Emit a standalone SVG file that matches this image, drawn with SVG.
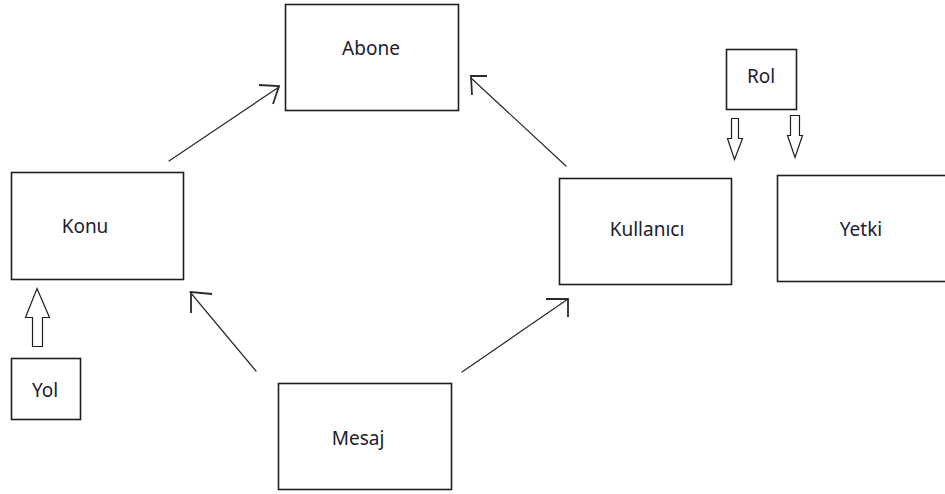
<svg xmlns="http://www.w3.org/2000/svg" width="945" height="494" viewBox="0 0 945 494">
  <style>
    .box { fill: #ffffff; stroke: #1e1e1e; stroke-width: 1.6; }
    .label { font-family: "Noto Sans", "Open Sans", sans-serif; font-size: 19px; fill: #1c2030; text-anchor: middle; }
    .line { fill: none; stroke: #2a2a2a; stroke-width: 1.2; stroke-linecap: round; }
    .head { fill: none; stroke: #2a2a2a; stroke-width: 1.8; stroke-linecap: butt; }
    .block { fill: #ffffff; stroke: #1e1e1e; stroke-width: 1.2; stroke-linejoin: miter; }
  </style>
  <rect width="945" height="494" fill="#ffffff"/>

  <!-- connectors: thin lines with hand-drawn open heads -->
  <g id="connectors">
    <!-- Konu to Abone -->
    <line class="line" x1="169" y1="161" x2="279" y2="87"/>
    <polyline class="head" points="259,85 279,86 273,104"/>
    <!-- Kullanici to Abone -->
    <line class="line" x1="566" y1="166" x2="471" y2="78"/>
    <polyline class="head" points="487,76 471,76 472,95"/>
    <!-- Mesaj to Konu -->
    <line class="line" x1="256" y1="371" x2="190" y2="292"/>
    <polyline class="head" points="212,294 191,292 191,313"/>
    <!-- Mesaj to Kullanici -->
    <line class="line" x1="462" y1="372" x2="568" y2="299"/>
    <polyline class="head" points="546,299 568,299 568,317"/>
    <!-- Yol up to Konu -->
    <polygon class="block" points="32.5,346.5 42.5,346.5 42.5,317.5 49.5,317.5 37,288.5 25.5,317.5 32.5,317.5"/>
    <!-- Rol down to Kullanici -->
    <polygon class="block" points="731.5,118.5 738.5,118.5 738.5,138.5 742.5,138.5 734.5,159.5 727.5,138.5 731.5,138.5"/>
    <!-- Rol down to Yetki -->
    <polygon class="block" points="790.5,115.5 799.5,115.5 799.5,135.5 802.5,135.5 795,157.5 787.5,135.5 790.5,135.5"/>
  </g>

  <g id="abone">
    <rect class="box" x="285.5" y="4.5" width="173" height="106"/>
    <text class="label" x="371" y="55">Abone</text>
  </g>
  <g id="konu">
    <rect class="box" x="11.5" y="172.5" width="172" height="107"/>
    <text class="label" x="85" y="233">Konu</text>
  </g>
  <g id="kullanici">
    <rect class="box" x="559.5" y="178.5" width="172" height="106"/>
    <text class="label" x="647" y="236">Kullanıcı</text>
  </g>
  <g id="yetki">
    <rect class="box" x="777.5" y="175.5" width="170" height="106"/>
    <text class="label" x="861" y="236">Yetki</text>
  </g>
  <g id="rol">
    <rect class="box" x="726.5" y="49.5" width="70" height="60"/>
    <text class="label" x="761" y="83">Rol</text>
  </g>
  <g id="yol">
    <rect class="box" x="11.5" y="358.5" width="69" height="61"/>
    <text class="label" x="45" y="397">Yol</text>
  </g>
  <g id="mesaj">
    <rect class="box" x="278.5" y="383.5" width="173" height="106"/>
    <text class="label" x="358" y="445">Mesaj</text>
  </g>
</svg>
